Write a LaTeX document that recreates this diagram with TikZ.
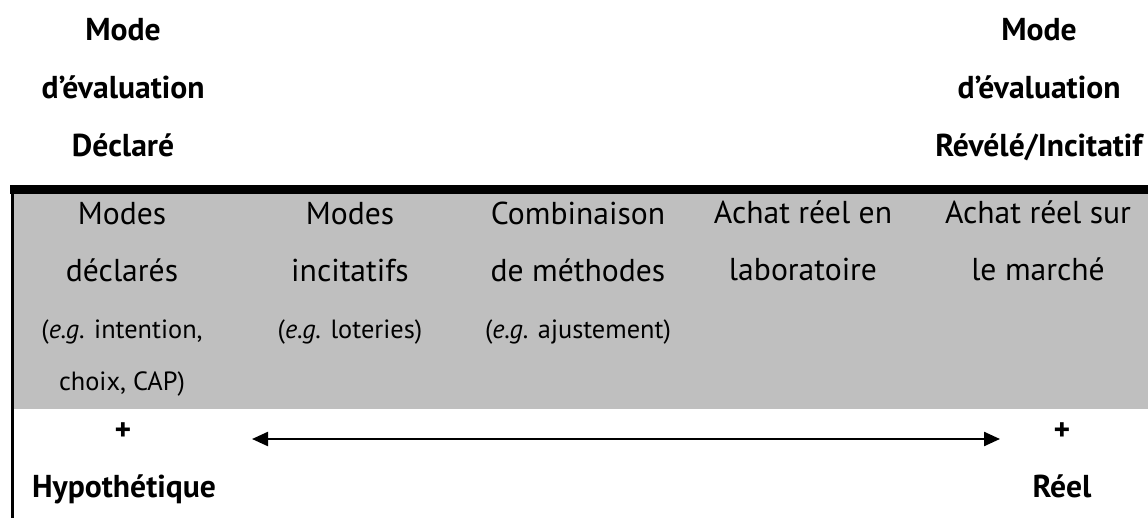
\documentclass[tikz,border=0pt]{standalone}
\usepackage{fontspec}
\setmainfont{PT Sans}
\usetikzlibrary{positioning,arrows.meta}
\definecolor{tabgray}{HTML}{BFBFBF}
\newcommand{\egline}[1]{{\fontsize{15}{20}\selectfont #1}}

\begin{document}
\begin{tikzpicture}[x=0.2mm,y=-0.2mm,
    font=\fontsize{18}{32.3}\selectfont,
    head/.style={font=\fontsize{18}{33}\selectfont\bfseries,align=center,inner sep=0pt,anchor=base},
    col/.style={align=center,inner sep=0pt,anchor=base},
    endlabel/.style={font=\fontsize{18}{33}\selectfont\bfseries,inner sep=0pt,anchor=base},
    arr/.style={{Triangle[length=3.2mm,width=2.8mm]}-{Triangle[length=3.2mm,width=2.8mm]},line width=1.3pt}]
  \useasboundingbox (0,0) rectangle (1148,522);
  % table band
  \fill[tabgray] (14,194) rectangle (1148,409);
  \fill[black] (10,185) rectangle (1148,194);
  \fill[black] (11,185) rectangle (14,518);
  % headers (anchored on last line)
  \node[head] (declare) at (123,156) {Mode\\d’évaluation\\Déclaré};
  \node[head] (revele) at (1039,156) {Mode\\d’évaluation\\Révélé/Incitatif};
  % columns
  \node[col] (c1) at (122,390) {Modes\\déclarés\\\egline{(\emph{e.g.} intention,}\\[-2.8pt]\egline{choix, CAP)}};
  \node[col] (c2) at (350,338) {Modes\\incitatifs\\\egline{(\emph{e.g.} loteries)}};
  \node[col] (c3) at (578,338) {Combinaison\\de méthodes\\\egline{(\emph{e.g.} ajustement)}};
  \node[col] (c4) at (803,280) {Achat réel en\\laboratoire};
  \node[col] (c5) at (1038,280) {Achat réel sur\\le marché};
  % scale
  \node[endlabel] (plusL) at (123,440) {+};
  \node[endlabel] (plusR) at (1062,440) {+};
  \node[endlabel] (hypo) at (124,497) {Hypothétique};
  \node[endlabel] (reel) at (1062,497) {Réel};
  \coordinate (arrL) at (252,439);
  \coordinate (arrR) at (1000,439);
  \draw[arr] (arrL) -- (arrR);
\end{tikzpicture}
\end{document}
